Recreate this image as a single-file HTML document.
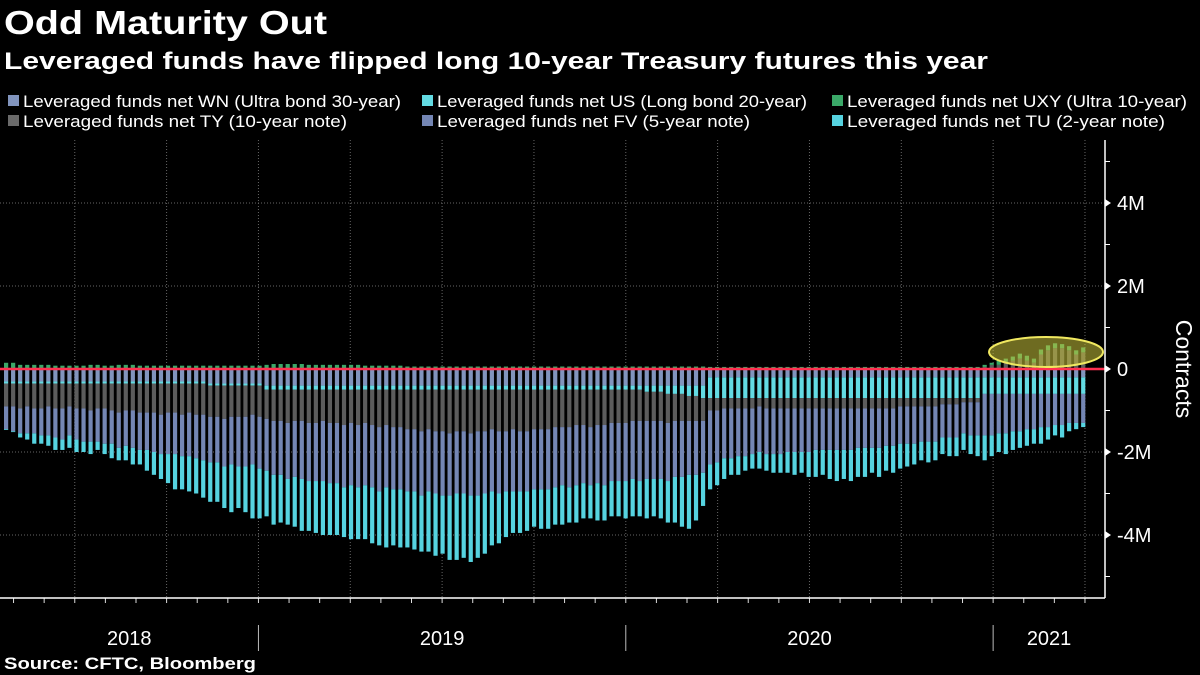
<!DOCTYPE html>
<html><head><meta charset="utf-8"><style>
html,body{margin:0;padding:0;background:#000;}
svg{display:block;font-family:"Liberation Sans",sans-serif;}
</style></head><body>
<svg id="chart" width="1200" height="675" viewBox="0 0 1200 675" xmlns="http://www.w3.org/2000/svg">
<rect width="1200" height="675" fill="#000"/>
<text x="4" y="34" fill="#fff" font-size="33" font-weight="bold" textLength="323" lengthAdjust="spacingAndGlyphs">Odd Maturity Out</text>
<text x="4" y="69" fill="#fff" font-size="24" font-weight="bold" textLength="984" lengthAdjust="spacingAndGlyphs">Leveraged funds have flipped long 10-year Treasury futures this year</text>
<g id="legend"></g>
<g id="grid"></g>
<g id="bars"></g>
<g id="axes"></g>
<text x="0" y="0" transform="translate(1176,369) rotate(90)" text-anchor="middle" fill="#fff" font-size="23">Contracts</text>
<text x="4" y="669" fill="#fff" font-size="17" font-weight="bold" textLength="252" lengthAdjust="spacingAndGlyphs">Source: CFTC, Bloomberg</text>
</svg>
<script>
// values in millions of contracts, one per weekly report
const WN = [
-0.3,-0.3,-0.3,-0.3,-0.3,-0.3,-0.3,-0.3,-0.3,-0.3,
-0.3,-0.3,-0.3,-0.3,-0.3,-0.3,-0.3,-0.3,-0.3,-0.3,
-0.3,-0.3,-0.3,-0.3,-0.3,-0.3,-0.3,-0.3,-0.3,-0.35,
-0.35,-0.35,-0.35,-0.35,-0.35,-0.35,-0.35,
-0.4,-0.4,-0.4,-0.4,-0.4,-0.4,-0.4,-0.4,-0.4,-0.4,
-0.4,-0.4,-0.4,-0.4,-0.4,-0.4,-0.4,-0.4,-0.4,-0.4,
-0.4,-0.4,-0.4,-0.4,-0.4,-0.4,-0.4,-0.4,-0.4,-0.4,
-0.4,-0.4,-0.4,-0.4,-0.4,-0.4,-0.4,-0.4,-0.4,-0.4,
-0.4,-0.4,-0.4,-0.4,-0.4,-0.4,-0.4,-0.4,-0.4,-0.4,
-0.4,-0.4,-0.4,-0.4,-0.4,-0.4,-0.4,-0.4,-0.4,-0.4,-0.4,-0.4,-0.4,
-0.2,-0.2,-0.2,-0.2,-0.2,-0.2,-0.2,-0.2,-0.2,-0.2,
-0.2,-0.2,-0.2,-0.2,-0.2,-0.2,-0.2,-0.2,-0.2,-0.2,
-0.2,-0.2,-0.2,-0.2,-0.2,-0.2,-0.2,-0.2,-0.2,-0.2,
-0.2,-0.2,-0.2,-0.2,-0.2,-0.2,-0.2,-0.2,-0.2,
-0.2,-0.2,-0.2,-0.2,-0.2,-0.2,-0.2,-0.2,-0.2,-0.2,-0.2,-0.2,-0.2,-0.2,-0.2];
const US = [
-0.05,-0.05,-0.05,-0.05,-0.05,-0.05,-0.05,-0.05,-0.05,-0.05,
-0.05,-0.05,-0.05,-0.05,-0.05,-0.05,-0.05,-0.05,-0.05,-0.05,
-0.05,-0.05,-0.05,-0.05,-0.05,-0.05,-0.05,-0.05,-0.05,-0.05,
-0.05,-0.05,-0.05,-0.05,-0.05,-0.05,-0.05,
-0.1,-0.1,-0.1,-0.1,-0.1,-0.1,-0.1,-0.1,-0.1,-0.1,
-0.1,-0.1,-0.1,-0.1,-0.1,-0.1,-0.1,-0.1,-0.1,-0.1,
-0.1,-0.1,-0.1,-0.1,-0.1,-0.1,-0.1,-0.1,-0.1,-0.1,
-0.1,-0.1,-0.1,-0.1,-0.1,-0.1,-0.1,-0.1,-0.1,-0.1,
-0.1,-0.1,-0.1,-0.1,-0.1,-0.1,-0.1,-0.1,-0.1,-0.1,
-0.1,-0.1,-0.1,-0.1,-0.15,-0.15,-0.15,-0.2,-0.2,-0.2,-0.25,-0.25,-0.3,
-0.5,-0.5,-0.5,-0.5,-0.5,-0.5,-0.5,-0.5,-0.5,-0.5,
-0.5,-0.5,-0.5,-0.5,-0.5,-0.5,-0.5,-0.5,-0.5,-0.5,
-0.5,-0.5,-0.5,-0.5,-0.5,-0.5,-0.5,-0.5,-0.5,-0.5,
-0.5,-0.5,-0.5,-0.5,-0.5,-0.5,-0.5,-0.5,-0.5,
-0.4,-0.4,-0.4,-0.4,-0.4,-0.4,-0.4,-0.4,-0.4,-0.4,-0.4,-0.4,-0.4,-0.4,-0.4];
const TY = [
-0.55,-0.55,-0.6,-0.55,-0.6,-0.6,-0.55,-0.6,-0.6,-0.55,
-0.6,-0.6,-0.65,-0.6,-0.6,-0.65,-0.7,-0.65,-0.65,-0.7,
-0.7,-0.7,-0.75,-0.7,-0.7,-0.75,-0.7,-0.75,-0.75,-0.75,
-0.75,-0.8,-0.75,-0.75,-0.75,-0.7,-0.75,
-0.7,-0.75,-0.75,-0.8,-0.75,-0.75,-0.8,-0.8,-0.75,-0.8,
-0.8,-0.85,-0.8,-0.85,-0.8,-0.85,-0.9,-0.85,-0.9,-0.9,
-0.95,-0.95,-1.0,-0.95,-1.0,-1.0,-1.05,-1.0,-1.0,-1.05,
-1.0,-1.0,-0.95,-1.0,-1.0,-0.95,-1.0,-1.0,-0.95,-0.95,
-0.95,-0.9,-0.9,-0.9,-0.85,-0.85,-0.9,-0.85,-0.85,-0.8,
-0.8,-0.8,-0.75,-0.75,-0.7,-0.7,-0.7,-0.7,-0.65,-0.65,-0.6,-0.6,-0.55,
-0.3,-0.3,-0.25,-0.25,-0.25,-0.25,-0.25,-0.2,-0.25,-0.25,
-0.25,-0.25,-0.25,-0.25,-0.25,-0.25,-0.25,-0.25,-0.25,-0.25,
-0.25,-0.25,-0.25,-0.25,-0.25,-0.25,-0.25,-0.2,-0.2,-0.2,
-0.2,-0.2,-0.2,-0.15,-0.15,-0.15,-0.1,-0.1,-0.1,
0.05,0.1,0.1,0.15,0.2,0.25,0.2,0.15,0.35,0.45,0.5,0.5,0.45,0.35,0.4];
const FV = [
-0.55,-0.6,-0.6,-0.65,-0.6,-0.65,-0.7,-0.7,-0.75,-0.7,
-0.75,-0.8,-0.75,-0.8,-0.85,-0.8,-0.85,-0.85,-0.9,-0.9,
-0.9,-0.95,-0.95,-1.0,-1.0,-1.0,-1.05,-1.05,-1.1,-1.1,
-1.1,-1.15,-1.15,-1.2,-1.2,-1.2,-1.25,
-1.25,-1.3,-1.3,-1.35,-1.35,-1.4,-1.4,-1.4,-1.45,-1.45,
-1.45,-1.5,-1.5,-1.5,-1.5,-1.5,-1.55,-1.5,-1.5,-1.5,
-1.5,-1.5,-1.55,-1.5,-1.5,-1.55,-1.5,-1.5,-1.5,-1.5,
-1.55,-1.5,-1.5,-1.5,-1.45,-1.5,-1.45,-1.45,-1.45,-1.45,
-1.45,-1.45,-1.4,-1.45,-1.45,-1.4,-1.4,-1.4,-1.45,-1.4,
-1.4,-1.4,-1.4,-1.45,-1.4,-1.4,-1.4,-1.4,-1.35,-1.35,-1.3,-1.3,-1.25,
-1.3,-1.25,-1.2,-1.2,-1.15,-1.15,-1.1,-1.1,-1.1,-1.1,
-1.1,-1.05,-1.05,-1.05,-1.05,-1.0,-1.0,-1.0,-1.0,-1.0,
-1.0,-0.95,-0.95,-0.95,-0.95,-0.9,-0.9,-0.9,-0.9,-0.9,
-0.85,-0.85,-0.85,-0.8,-0.8,-0.8,-0.75,-0.8,-0.8,
-1.0,-1.0,-0.95,-0.95,-0.9,-0.9,-0.85,-0.85,-0.8,-0.8,-0.75,-0.75,-0.7,-0.7,-0.7];
const TU = [
-0.02,-0.02,-0.1,-0.15,-0.25,-0.2,-0.25,-0.3,-0.25,-0.3,
-0.3,-0.25,-0.3,-0.2,-0.25,-0.35,-0.3,-0.35,-0.4,-0.35,
-0.5,-0.55,-0.6,-0.7,-0.85,-0.8,-0.85,-0.85,-0.9,-0.95,
-0.95,-1.0,-1.15,-1.0,-1.1,-1.3,-1.2,
-1.1,-1.2,-1.15,-1.1,-1.2,-1.25,-1.2,-1.25,-1.3,-1.25,
-1.25,-1.2,-1.3,-1.25,-1.3,-1.35,-1.3,-1.45,-1.35,-1.4,
-1.35,-1.4,-1.35,-1.45,-1.5,-1.4,-1.55,-1.6,-1.55,-1.6,
-1.5,-1.45,-1.3,-1.2,-1.1,-1.0,-1.0,-0.95,-0.9,-0.95,
-0.95,-0.9,-0.95,-0.85,-0.9,-0.85,-0.8,-0.9,-0.85,-0.85,
-0.85,-0.9,-0.9,-0.85,-0.95,-0.9,-0.95,-1.0,-1.1,-1.2,-1.3,-1.1,-0.8,
-0.6,-0.55,-0.5,-0.4,-0.45,-0.35,-0.35,-0.4,-0.4,-0.45,
-0.45,-0.5,-0.55,-0.5,-0.6,-0.65,-0.6,-0.7,-0.75,-0.7,
-0.75,-0.7,-0.7,-0.6,-0.7,-0.6,-0.65,-0.6,-0.55,-0.5,
-0.45,-0.5,-0.45,-0.4,-0.45,-0.45,-0.4,-0.45,-0.5,
-0.6,-0.5,-0.45,-0.5,-0.45,-0.4,-0.4,-0.35,-0.4,-0.3,-0.25,-0.3,-0.2,-0.15,-0.1];
const UXY = [
0.15,0.15,0.1,0.1,0.1,0.1,0.1,0.08,0.08,0.08,
0.08,0.08,0.1,0.1,0.08,0.08,0.1,0.1,0.1,0.08,
0.08,0.08,0.08,0.08,0.08,0.08,0.08,0.08,0.08,0.08,
0.08,0.08,0.08,0.08,0.08,0.08,0.08,
0.1,0.12,0.12,0.12,0.12,0.12,0.1,0.1,0.1,0.1,
0.1,0.1,0.1,0.1,0.08,0.08,0.08,0.08,0.08,0.08,
0.06,0.06,0.06,0.06,0.06,0.06,0.06,0.06,0.06,0.06,
0.06,0.06,0.06,0.06,0.06,0.06,0.06,0.06,0.06,0.06,
0.06,0.06,0.06,0.06,0.06,0.06,0.06,0.06,0.06,0.06,
0.06,0.06,0.06,0.06,0.06,0.06,0.06,0.06,0.06,0.06,0.06,0.06,0.06,
0.05,0.05,0.05,0.05,0.05,0.05,0.05,0.05,0.05,0.05,
0.05,0.05,0.05,0.05,0.05,0.05,0.05,0.05,0.05,0.05,
0.05,0.05,0.05,0.05,0.05,0.05,0.05,0.05,0.05,0.05,
0.05,0.05,0.05,0.05,0.05,0.05,0.05,0.05,0.05,
0.05,0.05,0.1,0.1,0.1,0.12,0.12,0.1,0.12,0.12,0.12,0.1,0.1,0.1,0.12];
const yTicks = [4, 2, 0, -2, -4];
const yTickLabels = ["4M", "2M", "0", "-2M", "-4M"];
const years = ["2018", "2019", "2020", "2021"];

const NS = "http://www.w3.org/2000/svg";
const Y0 = 369, PPM = 41.5, X0 = 4, STEP = 7.04, BW = 4.2, AXR = 1105;
const yScale = v => Y0 - v * PPM;
const xScale = i => X0 + i * STEP;
const weekOf2019 = 36; // bar index of first 2019 report
const xYear = y => xScale(weekOf2019) + (y - 2019) * 52.18 * STEP + 1;
function mk(tag, attrs, parent) {
  const e = document.createElementNS(NS, tag);
  for (const k in attrs) e.setAttribute(k, attrs[k]);
  parent.appendChild(e);
  return e;
}
const gGrid = document.getElementById('grid');
const gBars = document.getElementById('bars');
const gAx = document.getElementById('axes');
const gLeg = document.getElementById('legend');

// legend
const legendItems = [
  ["Leveraged funds net WN (Ultra bond 30-year)", "#8194bd", 8, 107, 378],
  ["Leveraged funds net US (Long bond 20-year)", "#63dbe3", 422, 107, 370],
  ["Leveraged funds net UXY (Ultra 10-year)", "#3aa868", 832, 107, 340],
  ["Leveraged funds net TY (10-year note)", "#6a6a6a", 8, 127, 324],
  ["Leveraged funds net FV (5-year note)", "#7486b4", 422, 127, 313],
  ["Leveraged funds net TU (2-year note)", "#56d3e0", 832, 127, 318]
];
legendItems.forEach(it => {
  const g = mk('g', {}, gLeg);
  
  
  mk('rect', {x: it[2], y: it[3] - 12, width: 11, height: 11, fill: it[1]}, g);
  const t = mk('text', {x: it[2] + 15, y: it[3], fill: '#fff', 'font-size': 17, textLength: it[4], lengthAdjust: 'spacingAndGlyphs'}, g);
  t.textContent = it[0];
});

// horizontal gridlines
yTicks.forEach(v => {
  if (v === 0) return;
  const l = mk('line', {x1: 0, x2: AXR, y1: yScale(v), y2: yScale(v), stroke: '#666', 'stroke-width': 1, 'stroke-dasharray': '1,2'}, gGrid);
  
  
});
// vertical quarterly gridlines & monthly ticks
for (let q = -3; q <= 9; q++) {
  const x = xYear(2019) + q * 52.18 * STEP / 4;
  if (x < 0 || x > AXR - 5) continue;
  const l = mk('line', {x1: x, x2: x, y1: 140, y2: 598, stroke: '#666', 'stroke-width': 1, 'stroke-dasharray': '1,2'}, gGrid);
  
  
}
for (let m = -9; m <= 27; m++) {
  const x = xYear(2019) + m * 52.18 * STEP / 12;
  if (x < 0 || x > AXR) continue;
  const t = mk('line', {x1: x, x2: x, y1: 598, y2: 603, stroke: '#ddd', 'stroke-width': 1}, gAx);
  
  
}

// bars
const series = [
  [WN, '#8194bd', 'bar-wn'], [US, '#63dbe3', 'bar-us'], [TY, '#5c5c5c', 'bar-ty'],
  [FV, '#7486b4', 'bar-fv'], [TU, '#56d3e0', 'bar-tu'], [UXY, '#3aa868', 'bar-uxy']
];
for (let i = 0; i < WN.length; i++) {
  let pos = 0, neg = 0;
  series.forEach(s => {
    const v = s[0][i];
    if (v === undefined || v === 0) return;
    let a, b;
    if (v > 0) { a = pos; b = pos + v; pos = b; } else { a = neg; b = neg + v; neg = b; }
    const yT = yScale(Math.max(a, b)), yB = yScale(Math.min(a, b));
    const r = mk('rect', {x: xScale(i), y: yT, width: BW, height: Math.max(0.5, yB - yT), fill: s[1]}, gBars);
    
    
  });
}
// zero line
const z = mk('line', {x1: 0, x2: AXR, y1: Y0, y2: Y0, stroke: '#ff3150', 'stroke-width': 2.5}, gAx);


// highlight ellipse
const el = mk('ellipse', {cx: 1046, cy: 352, rx: 57, ry: 15, fill: 'rgba(200,195,60,0.55)', stroke: '#f0e860', 'stroke-width': 2}, gAx);



// axes
const ya = mk('line', {x1: AXR, x2: AXR, y1: 140, y2: 598, stroke: '#fff', 'stroke-width': 1.5}, gAx);


const xa = mk('line', {x1: 0, x2: AXR, y1: 598, y2: 598, stroke: '#fff', 'stroke-width': 1.5}, gAx);


for (let v = -5; v <= 5; v++) {
  const t = mk('line', {x1: AXR, x2: AXR + 5, y1: yScale(v), y2: yScale(v), stroke: '#fff', 'stroke-width': 1}, gAx);
  
  
}
yTicks.forEach((v, k) => {
  const p = mk('path', {d: `M${AXR} ${yScale(v) - 4} L${AXR + 6} ${yScale(v)} L${AXR} ${yScale(v) + 4} Z`, fill: '#fff'}, gAx);
  const t = mk('text', {x: 1117, y: yScale(v) + 7, fill: '#fff', 'font-size': 20}, gAx);
  
  
  t.textContent = yTickLabels[k];
});
years.forEach((yr, k) => {
  const y = +yr;
  const start = Math.max(0, xYear(y)), end = Math.min(AXR, xYear(y + 1));
  if (k > 0) {
    const s = mk('line', {x1: xYear(y), x2: xYear(y), y1: 625, y2: 651, stroke: '#bbb', 'stroke-width': 1}, gAx);
    
    
  }
  const t = mk('text', {x: (start + end) / 2, y: 645, fill: '#fff', 'font-size': 20, 'text-anchor': 'middle'}, gAx);
  
  
  t.textContent = yr;
});
</script>
</body></html>
